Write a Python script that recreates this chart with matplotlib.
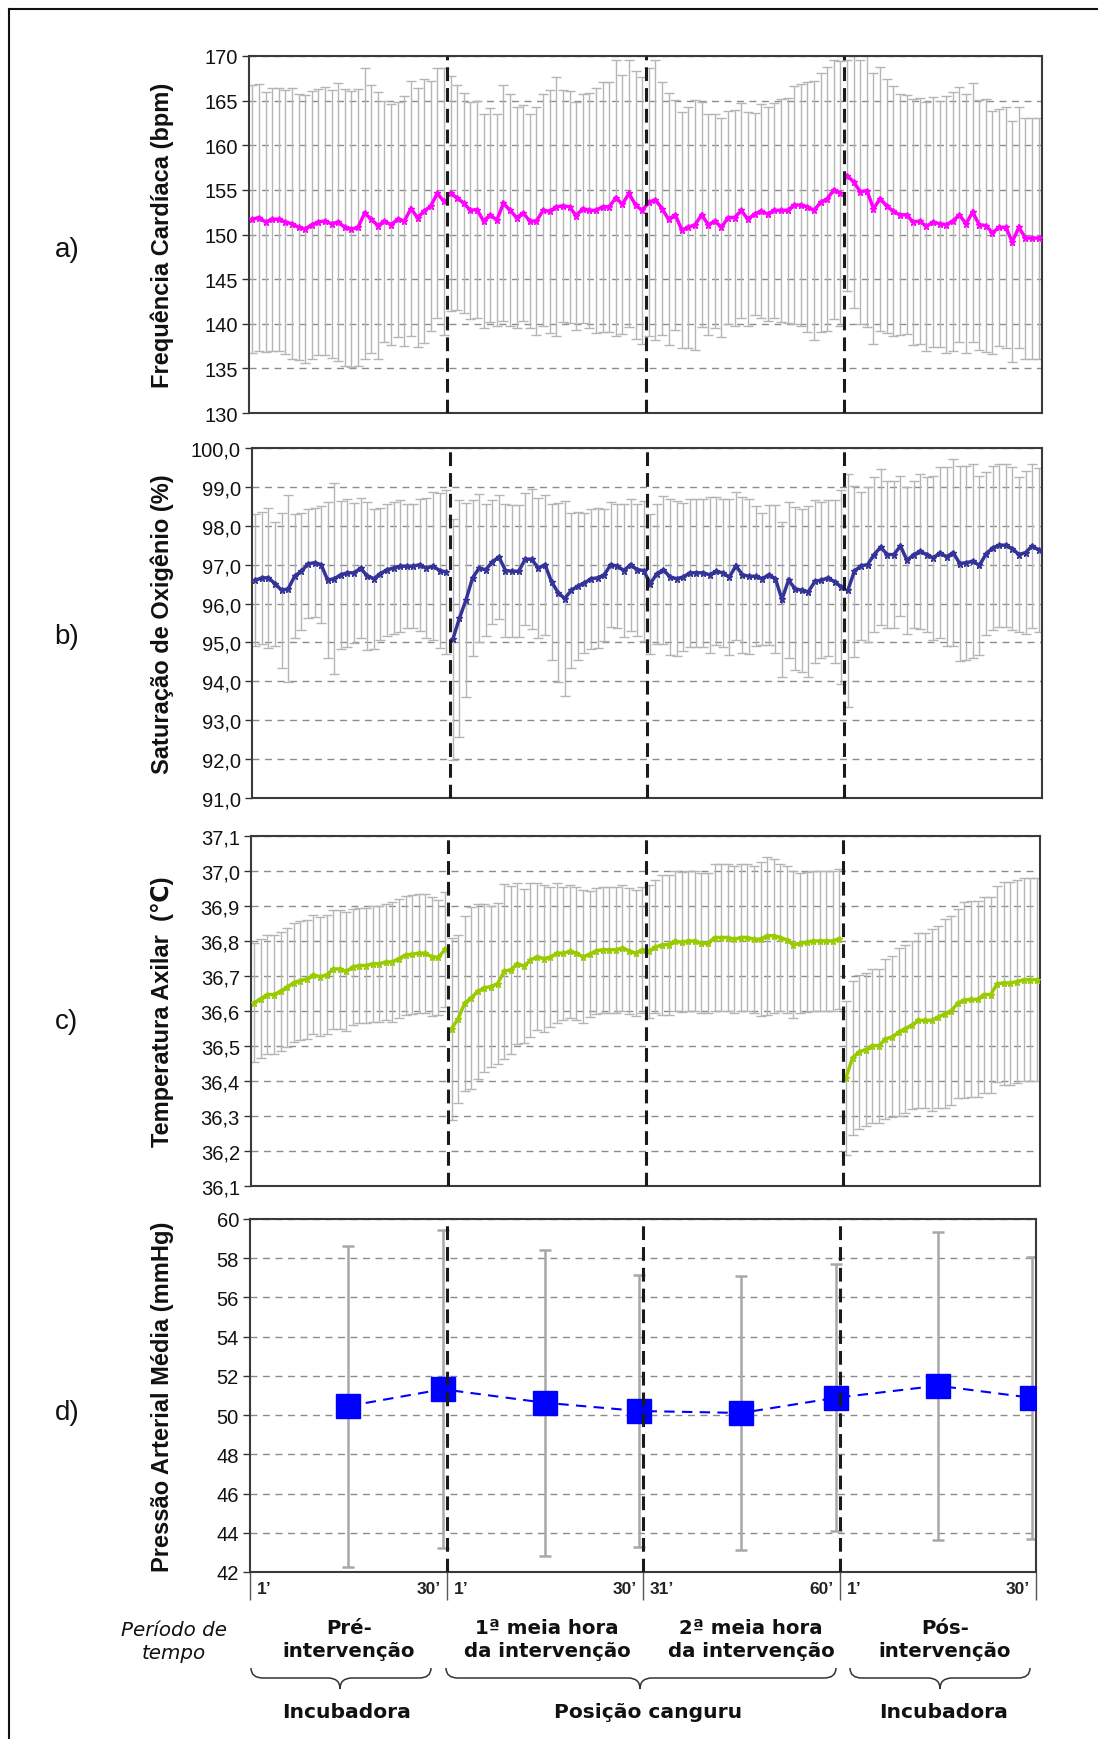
import numpy as np
import matplotlib
matplotlib.use('Agg')
import matplotlib.pyplot as plt
from matplotlib.path import Path
from matplotlib.patches import PathPatch
from matplotlib.lines import Line2D

# ---------------- DATA ----------------
hr_mean = [151.7, 151.9, 151.4, 151.7, 151.7, 151.4, 151.2, 150.8, 150.6, 151.1,
           151.4, 151.5, 151.2, 151.4, 150.8, 150.6, 150.8, 152.4, 151.7, 151.0,
           151.5, 151.1, 151.7, 151.5, 152.9, 151.9, 152.6, 153.2, 154.6, 153.7,
           154.6, 154.1, 153.5, 152.7, 152.8, 151.5, 152.2, 151.6, 153.5, 152.7,
           151.9, 152.4, 151.5, 151.5, 152.7, 152.6, 153.1, 153.2, 153.1, 152.1,
           152.9, 152.7, 152.7, 153.1, 153.1, 154.1, 153.4, 154.6, 153.3, 152.7,
           153.6, 153.9, 152.9, 151.7, 152.2, 150.5, 150.8, 151.1, 152.2, 151.1,
           151.5, 150.8, 151.9, 151.9, 152.7, 151.7, 152.3, 152.6, 152.3, 152.7,
           152.7, 152.7, 153.3, 153.3, 153.1, 152.7, 153.6, 154.0, 155.0, 154.6,
           156.6, 155.9, 154.8, 154.9, 152.9, 154.0, 153.2, 152.6, 152.2, 152.2,
           151.4, 151.5, 150.9, 151.4, 151.2, 151.1, 151.5, 152.2, 151.2, 152.5,
           151.1, 151.0, 150.2, 150.8, 150.8, 149.2, 150.8, 149.6, 149.6, 149.6]
hr_sd = [15.0, 15.0, 14.6, 14.7, 14.7, 14.8, 15.2, 14.9, 15.0, 15.0,
         14.9, 15.0, 15.0, 15.6, 15.5, 15.5, 15.5, 16.3, 15.0, 15.0,
         13.5, 13.5, 13.2, 14.0, 14.3, 14.5, 14.8, 14.0, 14.0, 15.0,
         13.2, 12.6, 12.3, 12.2, 12.2, 12.0, 12.0, 11.9, 13.2, 13.0,
         12.4, 12.1, 12.0, 12.8, 13.0, 13.6, 14.5, 13.0, 13.0, 12.8,
         12.8, 13.2, 13.7, 14.0, 14.0, 15.5, 14.5, 15.0, 15.0, 15.0,
         15.0, 15.7, 14.2, 14.1, 12.9, 13.2, 13.5, 14.0, 12.6, 12.4,
         12.0, 12.3, 11.9, 12.1, 12.0, 12.0, 11.3, 12.0, 12.0, 12.0,
         12.5, 12.6, 13.3, 13.6, 14.0, 14.5, 14.5, 14.8, 14.5, 14.8,
         12.9, 14.1, 14.8, 15.3, 15.2, 14.8, 14.2, 14.0, 13.5, 13.4,
         13.8, 13.8, 14.0, 14.0, 13.8, 14.4, 14.5, 14.3, 14.5, 14.5,
         14.0, 14.2, 13.6, 13.3, 13.5, 13.5, 13.5, 13.5, 13.5, 13.5]

spo2_mean = [96.60, 96.66, 96.66, 96.51, 96.34, 96.38, 96.71, 96.83, 97.02, 97.05,
             97.00, 96.60, 96.64, 96.74, 96.79, 96.79, 96.91, 96.71, 96.64, 96.77,
             96.87, 96.91, 96.96, 96.96, 96.96, 97.00, 96.91, 96.96, 96.85, 96.81,
             95.08, 95.62, 96.09, 96.66, 96.91, 96.87, 97.07, 97.20, 96.85, 96.83,
             96.83, 97.14, 97.14, 96.91, 97.00, 96.56, 96.28, 96.13, 96.34, 96.45,
             96.53, 96.64, 96.66, 96.74, 97.00, 96.96, 96.85, 97.00, 96.87, 96.85,
             96.51, 96.77, 96.87, 96.68, 96.64, 96.68, 96.79, 96.79, 96.79, 96.74,
             96.83, 96.79, 96.68, 96.97, 96.74, 96.70, 96.70, 96.64, 96.74, 96.64,
             96.11, 96.60, 96.38, 96.34, 96.30, 96.57, 96.60, 96.66, 96.56, 96.43,
             96.34, 96.83, 96.97, 97.00, 97.26, 97.45, 97.26, 97.26, 97.48, 97.11,
             97.26, 97.34, 97.26, 97.17, 97.31, 97.20, 97.31, 97.03, 97.05, 97.09,
             96.98, 97.28, 97.43, 97.50, 97.50, 97.41, 97.26, 97.31, 97.48, 97.38]
spo2_sd = [1.7, 1.7, 1.8, 1.6, 2.0, 2.4, 1.6, 1.5, 1.4, 1.4,
           1.5, 2.0, 2.45, 1.9, 1.9, 1.8, 1.8, 1.9, 1.8, 1.7,
           1.7, 1.7, 1.7, 1.6, 1.6, 1.7, 1.8, 1.9, 2.0, 2.1,
           3.1, 3.05, 2.5, 2.0, 1.9, 1.7, 1.6, 1.6, 1.7, 1.7,
           1.7, 1.7, 1.8, 1.8, 1.8, 2.0, 2.3, 2.5, 2.0, 1.9,
           1.8, 1.8, 1.8, 1.7, 1.6, 1.6, 1.7, 1.7, 1.7, 1.8,
           1.8, 1.8, 1.9, 2.0, 2.0, 1.9, 1.9, 1.9, 1.9, 2.0,
           1.9, 1.9, 2.0, 1.9, 2.0, 2.0, 1.8, 1.7, 1.8, 1.9,
           2.0, 2.0, 2.1, 2.1, 2.2, 2.1, 2.0, 2.0, 2.1, 2.5,
           3.0, 2.2, 1.9, 2.0, 2.0, 2.0, 1.9, 1.9, 1.8, 1.9,
           1.9, 2.0, 2.0, 2.1, 2.2, 2.3, 2.4, 2.5, 2.5, 2.5,
           2.3, 2.1, 2.1, 2.1, 2.1, 2.1, 2.0, 2.1, 2.1, 2.1]

temp_mean = [36.624, 36.635, 36.647, 36.647, 36.656, 36.668, 36.681, 36.687, 36.691, 36.703,
             36.698, 36.703, 36.720, 36.720, 36.713, 36.726, 36.730, 36.730, 36.735, 36.735,
             36.740, 36.740, 36.750, 36.760, 36.762, 36.765, 36.765, 36.755, 36.753, 36.776,
             36.549, 36.578, 36.622, 36.638, 36.656, 36.666, 36.670, 36.678, 36.713, 36.718,
             36.735, 36.728, 36.745, 36.755, 36.750, 36.753, 36.765, 36.765, 36.770, 36.765,
             36.755, 36.762, 36.772, 36.775, 36.775, 36.775, 36.780, 36.772, 36.765, 36.775,
             36.770, 36.783, 36.788, 36.790, 36.800, 36.796, 36.800, 36.800, 36.793, 36.793,
             36.810, 36.810, 36.810, 36.805, 36.810, 36.810, 36.805, 36.805, 36.815, 36.815,
             36.810, 36.803, 36.790, 36.793, 36.796, 36.800, 36.800, 36.800, 36.800, 36.807,
             36.410, 36.467, 36.483, 36.490, 36.501, 36.501, 36.520, 36.526, 36.539, 36.550,
             36.559, 36.573, 36.573, 36.573, 36.582, 36.592, 36.601, 36.622, 36.631, 36.633,
             36.633, 36.647, 36.647, 36.678, 36.680, 36.680, 36.684, 36.689, 36.689, 36.689]
temp_sd = [0.170, 0.170, 0.170, 0.170, 0.170, 0.170, 0.170, 0.170, 0.170, 0.170,
           0.170, 0.170, 0.170, 0.170, 0.170, 0.165, 0.165, 0.165, 0.165, 0.165,
           0.165, 0.170, 0.170, 0.170, 0.170, 0.170, 0.170, 0.170, 0.165, 0.165,
           0.260, 0.240, 0.250, 0.260, 0.250, 0.240, 0.230, 0.230, 0.250, 0.240,
           0.230, 0.220, 0.220, 0.210, 0.210, 0.200, 0.200, 0.190, 0.190, 0.190,
           0.190, 0.180, 0.180, 0.180, 0.180, 0.180, 0.180, 0.180, 0.180, 0.180,
           0.190, 0.190, 0.200, 0.200, 0.200, 0.200, 0.200, 0.200, 0.200, 0.200,
           0.210, 0.210, 0.210, 0.210, 0.210, 0.210, 0.210, 0.220, 0.225, 0.220,
           0.210, 0.210, 0.210, 0.200, 0.200, 0.200, 0.200, 0.200, 0.200, 0.200,
           0.220, 0.220, 0.220, 0.220, 0.220, 0.220, 0.230, 0.230, 0.240, 0.240,
           0.240, 0.250, 0.250, 0.260, 0.260, 0.270, 0.270, 0.270, 0.280, 0.280,
           0.280, 0.280, 0.280, 0.280, 0.290, 0.290, 0.290, 0.290, 0.290, 0.290]

map_mean = [50.46, 51.32, 50.63, 50.21, 50.11, 50.88, 51.50, 50.88]
map_sd = [8.18, 8.12, 7.80, 6.92, 7.00, 6.80, 7.86, 7.19]

hr_ticks = [130, 135, 140, 145, 150, 155, 160, 165, 170]
hr_ticklabels = ['130', '135', '140', '145', '150', '155', '160', '165', '170']
spo2_ticks = [91, 92, 93, 94, 95, 96, 97, 98, 99, 100]
spo2_ticklabels = ['91,0', '92,0', '93,0', '94,0', '95,0', '96,0', '97,0', '98,0', '99,0', '100,0']
temp_ticks = [36.1, 36.2, 36.3, 36.4, 36.5, 36.6, 36.7, 36.8, 36.9, 37.0, 37.1]
temp_ticklabels = ['36,1', '36,2', '36,3', '36,4', '36,5', '36,6', '36,7', '36,8', '36,9', '37,0', '37,1']
map_ticks = [42, 44, 46, 48, 50, 52, 54, 56, 58, 60]
map_ticklabels = ['42', '44', '46', '48', '50', '52', '54', '56', '58', '60']

ylabels = ['Frequência Cardíaca (bpm)', 'Saturação de Oxigênio (%)',
           'Temperatura Axilar  (\u2103)', 'Pressão Arterial Média (mmHg)']
panel_letters = ['a)', 'b)', 'c)', 'd)']
minute_labels = ['1\u2019', '30\u2019', '1\u2019', '30\u2019', '31\u2019', '60\u2019', '1\u2019', '30\u2019']
period_labels = ['Pré-\nintervenção', '1ª meia hora\nda intervenção',
                 '2ª meia hora\nda intervenção', 'Pós-\nintervenção']
place_labels = ['Incubadora', 'Posição canguru', 'Incubadora']

# ---------------- FIGURE ----------------
W, H = 1098, 1740
fig = plt.figure(figsize=(W / 100, H / 100), dpi=100)
fig.patch.set_facecolor('white')

def fx(px):
    return px / W

def fy(py):
    return 1 - py / H

def make_ax(l, t, r, b):
    return fig.add_axes([fx(l), fy(b), (r - l) / W, (b - t) / H])

SANS = ['Liberation Sans', 'DejaVu Sans']
GRID_C = '#8c8c8c'
SPINE_C = '#3a3a3a'
SEP_LS = (0, (4.5, 2.3))

def style_axes(ax, ticks, ticklabels, ylim):
    ax.set_ylim(*ylim)
    ax.set_yticks(ticks)
    ax.set_yticklabels(ticklabels, fontsize=14.5, family=SANS, color='#111111')
    ax.tick_params(axis='y', direction='out', length=5, width=1, pad=3, color='#333333')
    ax.yaxis.grid(True, color=GRID_C, lw=1.0, ls=(0, (5, 4)))
    ax.set_axisbelow(True)
    for s in ax.spines.values():
        s.set_color(SPINE_C)
        s.set_linewidth(1.5)

def series_panel(ax, mean, sd, color, ticks, ticklabels, ylim):
    mean = np.asarray(mean)
    sd = np.asarray(sd)
    x = np.arange(len(mean))
    ax.errorbar(x, mean, yerr=sd, fmt='none', ecolor='#b5b5b5', elinewidth=1.0,
                capsize=3.5, capthick=1.0, zorder=2)
    for s, e in [(0, 30), (30, 90), (90, 120)]:
        ax.plot(x[s:e], mean[s:e], color=color, lw=2.5, marker='*', ms=4.5,
                zorder=4, solid_joinstyle='miter')
    for xv in [29.5, 59.5, 89.5]:
        ax.axvline(xv, color='#1a1a1a', lw=2.2, ls=SEP_LS, zorder=5)
    ax.set_xlim(-0.5, 119.5)
    ax.set_xticks([])
    style_axes(ax, ticks, ticklabels, ylim)

ax_a = make_ax(249, 57, 1042, 414)
series_panel(ax_a, hr_mean, hr_sd, '#ff00ff', hr_ticks, hr_ticklabels, (130, 170))

ax_b = make_ax(252, 449, 1042, 799)
series_panel(ax_b, spo2_mean, spo2_sd, '#333399', spo2_ticks, spo2_ticklabels, (91, 100))

ax_c = make_ax(251, 837, 1040, 1187)
series_panel(ax_c, temp_mean, temp_sd, '#99cc00', temp_ticks, temp_ticklabels, (36.1, 37.1))

ax_d = make_ax(250, 1220, 1036, 1573)
xd = np.arange(1, 9) - 0.04 * (np.arange(8) % 2)
ax_d.errorbar(xd, map_mean, yerr=map_sd, fmt='none', ecolor='#a8a8a8', elinewidth=1.8,
              capsize=4.5, capthick=1.8, zorder=2)
ax_d.plot(xd, map_mean, color='#0000ff', lw=1.5, ls=(0, (5, 3.5)), marker='s', ms=17,
          mfc='#0000ff', mec='#0000ff', zorder=4)
for xv in [2, 4, 6]:
    ax_d.axvline(xv, color='#1a1a1a', lw=2.2, ls=SEP_LS, zorder=5)
ax_d.set_xlim(0, 8)
ax_d.set_xticks([0, 2, 4, 6, 8])
ax_d.set_xticklabels([])
ax_d.tick_params(axis='x', direction='out', length=20, width=1, color='#555555')
style_axes(ax_d, map_ticks, map_ticklabels, (42, 60))

# y labels and panel letters
axes = [ax_a, ax_b, ax_c, ax_d]
letter_y = [250, 637, 1022, 1413]
for ax, lab, let, ly in zip(axes, ylabels, panel_letters, letter_y):
    pos = ax.get_position()
    yc = (pos.y0 + pos.y1) / 2
    fig.text(fx(162), yc, lab, rotation=90, ha='center', va='center',
             fontsize=17, fontweight='bold', family=SANS, color='#111111')
    fig.text(fx(67), fy(ly), let, ha='center', va='center', fontsize=20,
             family=SANS, color='#111111')

# minute labels under panel d
tick_px = [250, 446.5, 643, 839.5, 1036]
NARROW = ['Liberation Sans Narrow', 'Liberation Sans']
y_min = fy(1590)
for i, lab in enumerate(minute_labels):
    seg = i // 2
    if i % 2 == 0:
        xp, ha = tick_px[seg] + 7, 'left'
    else:
        xp, ha = tick_px[seg + 1] - 6, 'right'
    fig.text(fx(xp), y_min, lab, ha=ha, va='center', fontsize=12.5,
             fontweight='bold', family=NARROW, color='#222222')

# period labels
period_x = [349, 547, 751, 945]
for xp, lab in zip(period_x, period_labels):
    fig.text(fx(xp), fy(1640), lab, ha='center', va='center', fontsize=14.2,
             fontweight='bold', family='DejaVu Sans', color='#111111', linespacing=1.32)

fig.text(fx(174), fy(1642), 'Período de\ntempo', ha='center', va='center',
         fontsize=14.3, style='italic', family='DejaVu Sans', color='#111111', linespacing=1.3)

# braces
def brace(x0, x1, xc, ytop=1669, ymid=1679, ytip=1690, r=12):
    verts = [(x0, ytop), (x0, ymid), (x0 + r, ymid),
             (xc - r, ymid), (xc, ymid), (xc, ytip),
             (xc, ymid), (xc + r, ymid),
             (x1 - r, ymid), (x1, ymid), (x1, ytop)]
    codes = [Path.MOVETO, Path.CURVE3, Path.CURVE3,
             Path.LINETO, Path.CURVE3, Path.CURVE3,
             Path.CURVE3, Path.CURVE3,
             Path.LINETO, Path.CURVE3, Path.CURVE3]
    verts = [(fx(a), fy(b)) for a, b in verts]
    fig.patches.append(PathPatch(Path(verts, codes), transform=fig.transFigure,
                                 fill=False, lw=1.1, edgecolor='#333333'))

brace(251, 431, 340)
brace(446, 836, 640)
brace(850, 1030, 940)

place_x = [347, 648, 944]
for xp, lab in zip(place_x, place_labels):
    fig.text(fx(xp), fy(1713), lab, ha='center', va='center', fontsize=14.6,
             fontweight='bold', family='DejaVu Sans', color='#111111')

# outer frame (top and left visible)
fig.lines.append(Line2D([fx(9), fx(1098)], [fy(10), fy(10)], transform=fig.transFigure,
                        color='#111111', lw=1.5))
fig.lines.append(Line2D([fx(9), fx(9)], [fy(10), fy(1740)], transform=fig.transFigure,
                        color='#111111', lw=1.5))

fig.savefig('out.png', dpi=100, facecolor='white')
